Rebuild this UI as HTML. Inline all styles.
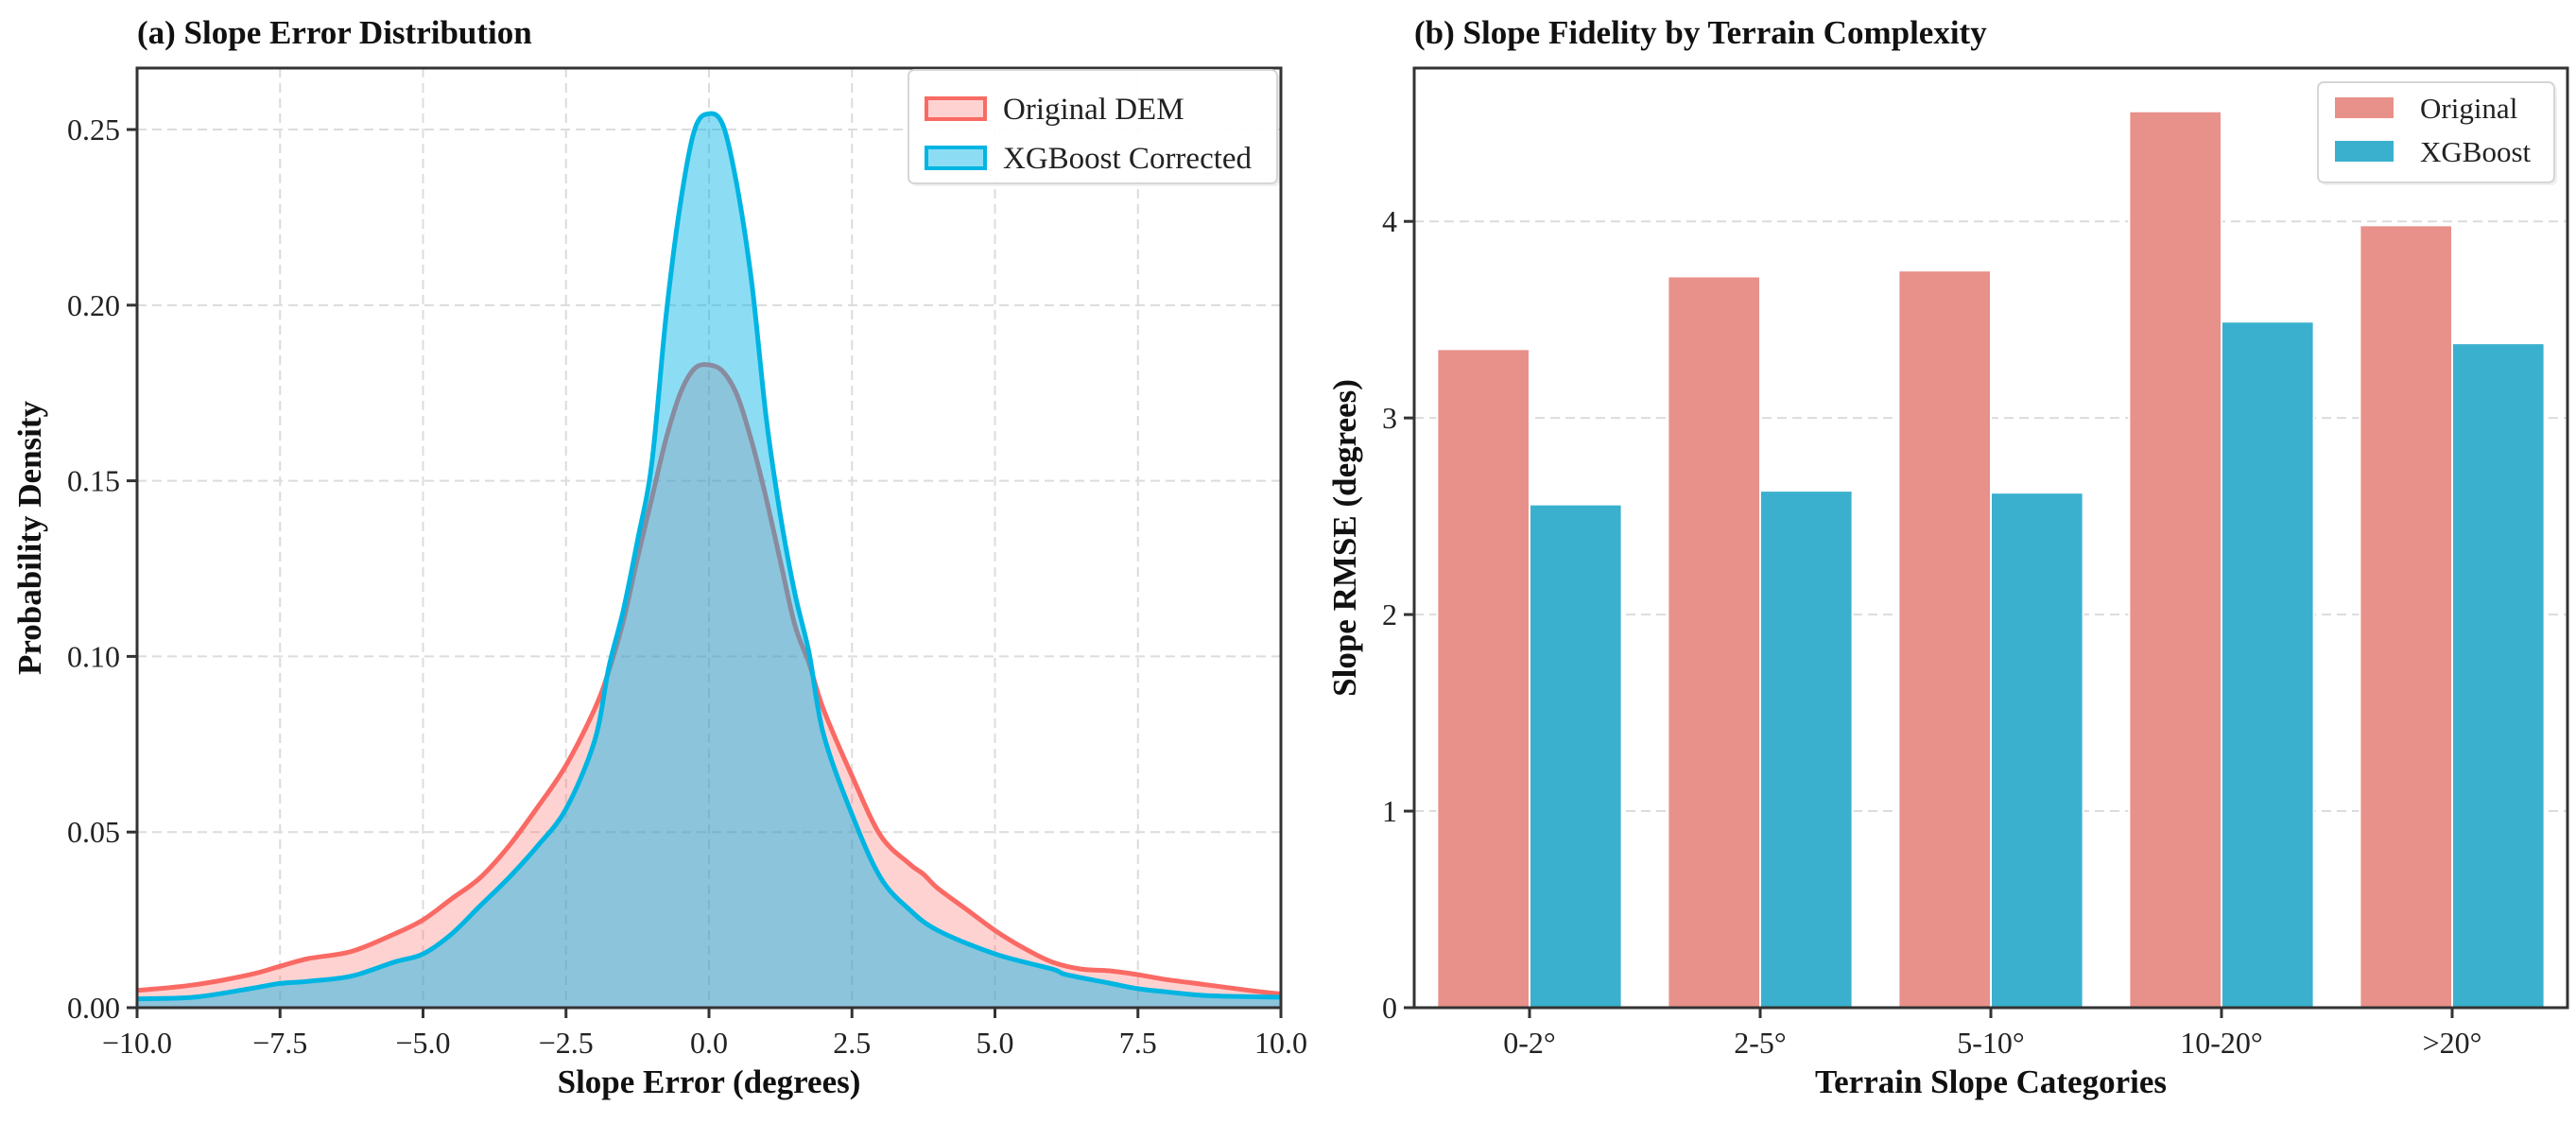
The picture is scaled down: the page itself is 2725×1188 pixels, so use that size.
<!DOCTYPE html>
<html><head><meta charset="utf-8"><style>
html,body{margin:0;padding:0;background:#fff}
svg{display:block;font-family:"Liberation Serif","DejaVu Serif",serif}
</style></head><body>
<svg id="fig" width="2725" height="1188" viewBox="0 0 2725 1188" xmlns="http://www.w3.org/2000/svg">
<g id="pa"></g>
<g id="pb"></g>
</svg>
<script>
// Panel (a) data
const kdeXOrig = [-10,-9,-8,-7.5,-7,-6.25,-5.5,-5,-4.5,-4,-3.5,-3,-2.5,-2,-1.75,-1.5,-1.25,-1,-0.75,-0.5,-0.25,0,0.25,0.5,0.75,1,1.25,1.5,1.75,2,2.5,3,3.5,3.75,4,4.5,5,5.5,6,6.5,7,7.5,8,8.75,9.5,10];
const kdeOrig = [0.0049,0.0065,0.0095,0.0118,0.014,0.016,0.021,0.025,0.031,0.037,0.046,0.057,0.069,0.085,0.096,0.11,0.128,0.145,0.162,0.175,0.182,0.183,0.181,0.174,0.161,0.145,0.127,0.109,0.098,0.085,0.066,0.049,0.041,0.038,0.034,0.028,0.022,0.017,0.013,0.011,0.0105,0.0094,0.008,0.0064,0.0048,0.0039];
const kdeXXgb = [-10,-9,-8,-7.5,-7,-6.25,-5.5,-5,-4.5,-4,-3.5,-3,-2.5,-2,-1.75,-1.5,-1.25,-1,-0.75,-0.5,-0.25,0,0.25,0.5,0.75,1,1.25,1.5,1.75,2,2.5,3,3.5,4,5,6,6.25,7,7.5,8,8.75,10];
const kdeXgb = [0.0025,0.003,0.0055,0.0069,0.0075,0.009,0.013,0.0153,0.021,0.029,0.037,0.046,0.0566,0.076,0.097,0.113,0.133,0.155,0.197,0.229,0.25,0.2545,0.251,0.233,0.206,0.168,0.14,0.118,0.101,0.078,0.055,0.037,0.028,0.022,0.0153,0.011,0.0094,0.007,0.0054,0.0045,0.0034,0.003];
const xTicksA = [-10,-7.5,-5,-2.5,0,2.5,5,7.5,10];
const xTickLabelsA = ["\u221210.0","\u22127.5","\u22125.0","\u22122.5","0.0","2.5","5.0","7.5","10.0"];
const yTicksA = [0,0.05,0.10,0.15,0.20,0.25];
const yTickLabelsA = ["0.00","0.05","0.10","0.15","0.20","0.25"];
// Panel (b) data
const categories = ["0-2\u00b0","2-5\u00b0","5-10\u00b0","10-20\u00b0",">20\u00b0"];
const rmseOriginal = [3.35,3.72,3.75,4.56,3.98];
const rmseXgb = [2.56,2.63,2.62,3.49,3.38];
const yTicksB = [0,1,2,3,4];
const yTickLabelsB = ["0","1","2","3","4"];

const NS="http://www.w3.org/2000/svg";
function mk(parent,tag,attrs,text){const e=document.createElementNS(NS,tag);for(const k in attrs)e.setAttribute(k,attrs[k]);if(text!==undefined)e.textContent=text;parent.appendChild(e);return e;}
const TICK=32, LAB=35, LEG=33, LEGB=31;

// ---------- Panel A ----------
const pa=document.getElementById('pa');
const A={l:145,r:1355,t:72,b:1066,xmin:-10,xmax:10,ymin:0,ymax:0.2675};
const ax=v=>A.l+(v-A.xmin)/(A.xmax-A.xmin)*(A.r-A.l);
const ay=v=>A.b-(v-A.ymin)/(A.ymax-A.ymin)*(A.b-A.t);
xTicksA.forEach(v=>{const g=mk(pa,'line',{x1:ax(v),x2:ax(v),y1:A.t,y2:A.b,stroke:'#dcdcdc','stroke-width':2,'stroke-dasharray':'10,6'});

});
yTicksA.forEach(v=>{const g=mk(pa,'line',{x1:A.l,x2:A.r,y1:ay(v),y2:ay(v),stroke:'#dcdcdc','stroke-width':2,'stroke-dasharray':'10,6'});

});
function smooth(xs,ys){
  const P=xs.map((x,i)=>[ax(x),ay(ys[i])]);
  let d='M'+P[0][0].toFixed(1)+','+P[0][1].toFixed(1);
  for(let i=0;i<P.length-1;i++){
    const p0=P[Math.max(0,i-1)],p1=P[i],p2=P[i+1],p3=P[Math.min(P.length-1,i+2)];
    const c1=[p1[0]+(p2[0]-p0[0])/6,p1[1]+(p2[1]-p0[1])/6];
    const c2=[p2[0]-(p3[0]-p1[0])/6,p2[1]-(p3[1]-p1[1])/6];
    d+=' C'+c1[0].toFixed(1)+','+c1[1].toFixed(1)+' '+c2[0].toFixed(1)+','+c2[1].toFixed(1)+' '+p2[0].toFixed(1)+','+p2[1].toFixed(1);
  }
  return d;
}
function areaPath(xs,ys){return smooth(xs,ys)+' L'+ax(xs[xs.length-1])+','+ay(0)+' L'+ax(xs[0])+','+ay(0)+' Z';}
const clipA=mk(pa,'clipPath',{id:'clipA'});mk(clipA,'rect',{x:A.l,y:A.t,width:A.r-A.l,height:A.b-A.t});
let e=mk(pa,'path',{d:areaPath(kdeXOrig,kdeOrig),fill:'#ff6b6b','fill-opacity':0.3,'clip-path':'url(#clipA)'});


e=mk(pa,'path',{d:smooth(kdeXOrig,kdeOrig),fill:'none',stroke:'#fa6a64','stroke-width':5,'stroke-linejoin':'round','clip-path':'url(#clipA)'});


e=mk(pa,'path',{d:areaPath(kdeXXgb,kdeXgb),fill:'#00b4e6','fill-opacity':0.45,'clip-path':'url(#clipA)'});


e=mk(pa,'path',{d:smooth(kdeXXgb,kdeXgb),fill:'none',stroke:'#00b5e2','stroke-width':5,'stroke-linejoin':'round','clip-path':'url(#clipA)'});


e=mk(pa,'rect',{x:A.l,y:A.t,width:A.r-A.l,height:A.b-A.t,fill:'none',stroke:'#333','stroke-width':3});


xTicksA.forEach((v,i)=>{mk(pa,'line',{x1:ax(v),x2:ax(v),y1:A.b,y2:A.b+11,stroke:'#333','stroke-width':3});
const t=mk(pa,'text',{x:ax(v),y:A.b+48,'text-anchor':'middle','font-size':TICK,fill:'#222'},xTickLabelsA[i]);

});
yTicksA.forEach((v,i)=>{mk(pa,'line',{x1:A.l-11,x2:A.l,y1:ay(v),y2:ay(v),stroke:'#333','stroke-width':3});
const t=mk(pa,'text',{x:A.l-18,y:ay(v)+11,'text-anchor':'end','font-size':TICK,fill:'#222'},yTickLabelsA[i]);

});
e=mk(pa,'text',{x:A.l,y:46,'font-size':35,'font-weight':'bold',fill:'#111'},'(a) Slope Error Distribution');


e=mk(pa,'text',{x:(A.l+A.r)/2,y:1156,'text-anchor':'middle','font-size':LAB,'font-weight':'bold',fill:'#111'},'Slope Error (degrees)');


e=mk(pa,'text',{x:0,y:0,transform:'translate(43,'+((A.t+A.b)/2)+') rotate(-90)','text-anchor':'middle','font-size':LAB,'font-weight':'bold',fill:'#111'},'Probability Density');


// legend A
const lgA=mk(pa,'g',{});


mk(lgA,'rect',{x:964,y:77,width:390,height:120,rx:6,fill:'#000','fill-opacity':0.06});
mk(lgA,'rect',{x:961,y:74,width:390,height:120,rx:6,fill:'#fff','fill-opacity':0.95,stroke:'#d6d6d6','stroke-width':2});
[['Original DEM','#ff6b6b','#fa6a64',0.3],['XGBoost Corrected','#00b4e6','#00b5e2',0.45]].forEach((it,i)=>{
const y=104+i*52;
const en=mk(lgA,'g',{});


mk(en,'rect',{x:980,y:y,width:62,height:22,fill:it[1],'fill-opacity':it[3],stroke:it[2],'stroke-width':4});
mk(en,'text',{x:1061,y:y+22,'font-size':LEG,fill:'#222'},it[0]);});

// ---------- Panel B ----------
const pb=document.getElementById('pb');
const B={l:1496,r:2716,t:72,b:1066,xmin:-0.5,xmax:4.5,ymin:0,ymax:4.78};
const bx=v=>B.l+(v-B.xmin)/(B.xmax-B.xmin)*(B.r-B.l);
const by=v=>B.b-(v-B.ymin)/(B.ymax-B.ymin)*(B.b-B.t);
yTicksB.forEach(v=>{const g=mk(pb,'line',{x1:B.l,x2:B.r,y1:by(v),y2:by(v),stroke:'#dcdcdc','stroke-width':2,'stroke-dasharray':'10,6'});

});
const bw=0.4;
categories.forEach((c,i)=>{
const r1=mk(pb,'rect',{x:bx(i-bw),y:by(rmseOriginal[i]),width:bx(i)-bx(i-bw),height:by(0)-by(rmseOriginal[i]),fill:'#e8908a',stroke:'#fff','stroke-width':2});


const r2=mk(pb,'rect',{x:bx(i),y:by(rmseXgb[i]),width:bx(i+bw)-bx(i),height:by(0)-by(rmseXgb[i]),fill:'#3bb0ce',stroke:'#fff','stroke-width':2});


mk(pb,'line',{x1:bx(i),x2:bx(i),y1:B.b,y2:B.b+11,stroke:'#333','stroke-width':3});
const t=mk(pb,'text',{x:bx(i),y:B.b+48,'text-anchor':'middle','font-size':TICK,fill:'#222'},c);

});
e=mk(pb,'rect',{x:B.l,y:B.t,width:B.r-B.l,height:B.b-B.t,fill:'none',stroke:'#333','stroke-width':3});


yTicksB.forEach((v,i)=>{mk(pb,'line',{x1:B.l-11,x2:B.l,y1:by(v),y2:by(v),stroke:'#333','stroke-width':3});
const t=mk(pb,'text',{x:B.l-18,y:by(v)+11,'text-anchor':'end','font-size':TICK,fill:'#222'},yTickLabelsB[i]);

});
e=mk(pb,'text',{x:B.l,y:46,'font-size':35,'font-weight':'bold',fill:'#111'},'(b) Slope Fidelity by Terrain Complexity');


e=mk(pb,'text',{x:(B.l+B.r)/2,y:1156,'text-anchor':'middle','font-size':LAB,'font-weight':'bold',fill:'#111'},'Terrain Slope Categories');


e=mk(pb,'text',{x:0,y:0,transform:'translate(1434,'+((B.t+B.b)/2)+') rotate(-90)','text-anchor':'middle','font-size':LAB,'font-weight':'bold',fill:'#111'},'Slope RMSE (degrees)');


const lgB=mk(pb,'g',{});


mk(lgB,'rect',{x:2455,y:90,width:250,height:106,rx:6,fill:'#000','fill-opacity':0.06});
mk(lgB,'rect',{x:2452,y:87,width:250,height:106,rx:6,fill:'#fff','fill-opacity':0.95,stroke:'#d6d6d6','stroke-width':2});
[['Original','#e8908a'],['XGBoost','#3bb0ce']].forEach((it,i)=>{
const y=103+i*46;
const en=mk(lgB,'g',{});


mk(en,'rect',{x:2470,y:y,width:62,height:22,fill:it[1]});
mk(en,'text',{x:2560,y:y+22,'font-size':LEGB,fill:'#222'},it[0]);});
</script>
</body></html>
